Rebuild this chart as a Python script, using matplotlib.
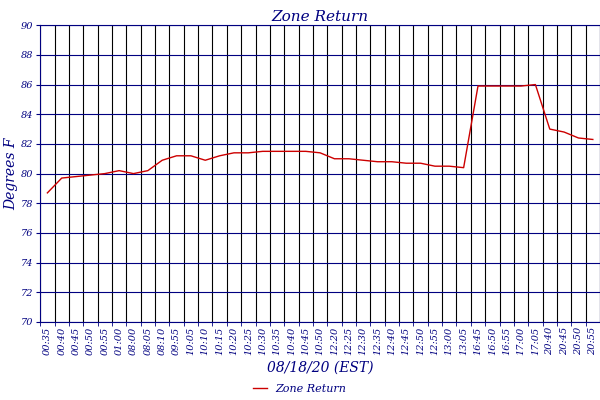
import matplotlib
matplotlib.use("Agg")
import matplotlib.pyplot as plt
import numpy as np

labels = ["00:35","00:40","00:45","00:50","00:55","01:00","08:00","08:05","08:10","09:55",
          "10:05","10:10","10:15","10:20","10:25","10:30","10:35","10:40","10:45","10:50",
          "12:20","12:25","12:30","12:35","12:40","12:45","12:50","12:55","13:00","13:05",
          "16:45","16:50","16:55","17:00","17:05","20:40","20:45","20:50","20:55"]
values = [78.7,79.7,79.8,79.9,80.0,80.2,80.0,80.2,80.9,81.2,
          81.2,80.9,81.2,81.4,81.4,81.5,81.5,81.5,81.5,81.4,
          81.0,81.0,80.9,80.8,80.8,80.7,80.7,80.5,80.5,80.4,
          85.9,85.9,85.9,85.9,86.0,83.0,82.8,82.4,82.3]

navy = "#000080"
fig = plt.figure(figsize=(6, 4), dpi=100)
ax = fig.add_axes([0.067, 0.195, 0.933, 0.742])
x = np.arange(len(labels))
ax.plot(x, values, color="#cc0000", lw=1, label="Zone Return")
ax.set_xlim(-0.5, len(labels) - 0.5)
ax.set_ylim(70, 90)
ax.set_yticks(range(70, 91, 2))
ax.set_xticks(x)
ax.set_xticklabels(labels, rotation=90, fontsize=7, color=navy, family="DejaVu Serif", style="italic")
ax.set_xticks(np.arange(-0.5, len(labels), 1), minor=True)
ax.tick_params(axis="x", which="major", length=0)
ax.tick_params(axis="x", which="minor", length=3, color=navy)
ax.tick_params(axis="y", labelsize=7, colors=navy, length=3, pad=2)
for t in ax.get_yticklabels():
    t.set_family("DejaVu Serif"); t.set_style("italic")
ax.grid(True, which="minor", axis="x", color="black", lw=0.8)
ax.grid(True, which="major", axis="y", color=navy, lw=0.8)
for s in ax.spines.values():
    s.set_color(navy)
ax.set_title("Zone Return", color=navy, fontsize=11, family="DejaVu Serif", style="italic", pad=3)
ax.set_ylabel("Degrees F", color=navy, fontsize=10, family="DejaVu Serif", style="italic", labelpad=2)
ax.set_xlabel("08/18/20 (EST)", color=navy, fontsize=10, family="DejaVu Serif", style="italic")
leg = fig.legend(loc="lower center", bbox_to_anchor=(0.5, -0.01), frameon=False,
                 prop={"family": "DejaVu Serif", "style": "italic", "size": 8}, handlelength=1.2)
for t in leg.get_texts():
    t.set_color(navy)
fig.savefig("out.png", dpi=100)
